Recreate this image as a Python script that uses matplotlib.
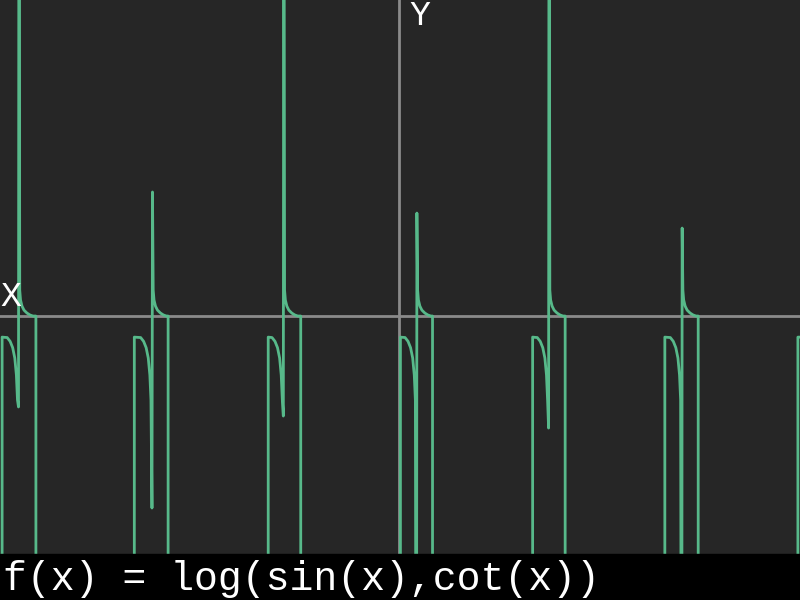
import numpy as np
import matplotlib.pyplot as plt
from matplotlib.patches import Rectangle

# valores (x en radianes, y en unidades del eje)
rise_x = [-9.42, -6.29, -3.12, 0.01, 3.14, 6.27, 9.42]
spike_x = [-9.02, -5.86, -2.75, 0.40, 3.53, 6.68]
drop_x = [-8.62, -5.49, -2.35, 0.77, 3.91, 7.06]
spike_top = [30, 5.88, 30, 4.88, 30, 4.17]
dip_min = [-4.31, -9.10, -4.74, -30, -5.31, -30]

# forma del tramo antes del pico (desplazamiento respecto al pico)
dip_dx = [-0.28, -0.21, -0.15, -0.10, -0.062, -0.036]
dip_y = [-1.02, -1.20, -1.50, -1.99, -2.80, -3.98]
# caída después del pico
decay_dx = [0.017, 0.036, 0.071, 0.118, 0.189, 0.26, 0.33]
decay_y = [1.23, 0.76, 0.47, 0.28, 0.14, 0.05, 0.0]

plateau = -1.0
off = -30

xs, ys = [], []
for i in range(len(spike_x)):
    xs += [rise_x[i], rise_x[i]]
    ys += [off, plateau]
    for dx, y in zip(dip_dx, dip_y):
        xs.append(spike_x[i] + dx)
        ys.append(y)
    xs += [spike_x[i] - 0.012, spike_x[i]]
    ys += [dip_min[i], spike_top[i]]
    for dx, y in zip(decay_dx, decay_y):
        xs.append(spike_x[i] + dx)
        ys.append(y)
    xs += [drop_x[i], drop_x[i]]
    ys += [0.0, off]
# último tramo en el borde derecho
xs += [rise_x[-1], rise_x[-1], rise_x[-1] + 0.3]
ys += [off, plateau, plateau]

fig = plt.figure(figsize=(8, 6), dpi=100)
fig.patch.set_facecolor('#262626')
ax = fig.add_axes([0, 0, 1, 1])
ax.set_facecolor('#262626')
ax.set_xlim(-9.47, 9.47)
ax.set_ylim(-13.46, 14.98)
for s in ax.spines.values():
    s.set_visible(False)
ax.set_xticks([])
ax.set_yticks([])

ax.axhline(0, color='#8a8a8a', lw=2, zorder=1)
ax.axvline(-0.012, color='#8a8a8a', lw=2, zorder=1)
ax.plot(xs, ys, color='#57b98a', lw=2.0, zorder=2, solid_joinstyle='round')

font = 'Liberation Mono'
fig.text(0 / 800, 1 - 306 / 600, 'X', color='white', fontsize=25, family=font,
         ha='left', va='baseline')
fig.text(409 / 800, 1 - 25 / 600, 'Y', color='white', fontsize=25, family=font,
         ha='left', va='baseline')

fig.patches.append(Rectangle((0, 0), 1, 46 / 600, transform=fig.transFigure,
                             color='black', zorder=5))
fig.text(3 / 800, 10 / 600, 'f(x) = log(sin(x),cot(x))', color='white',
         fontsize=28.7, family=font, ha='left', va='baseline', zorder=6)

fig.savefig('out.png', dpi=100, facecolor=fig.get_facecolor())
